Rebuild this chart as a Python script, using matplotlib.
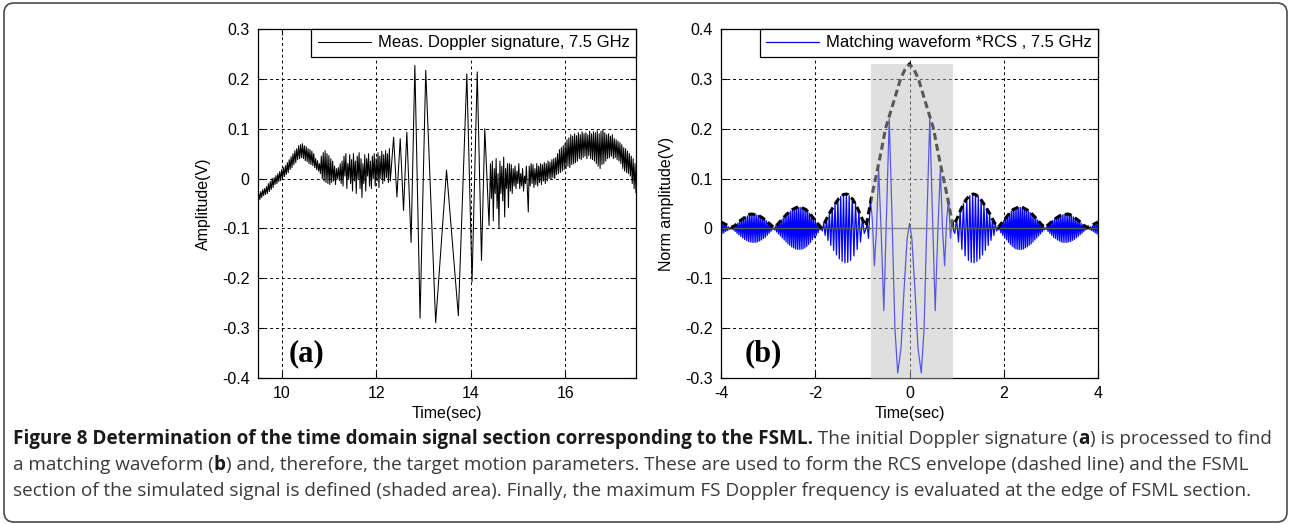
import numpy as np
import matplotlib
matplotlib.use("Agg")
import matplotlib.pyplot as plt
from matplotlib.patches import Rectangle, FancyBboxPatch
from matplotlib.transforms import IdentityTransform

plt.rcParams['font.family'] = ['Liberation Sans', 'DejaVu Sans']
plt.rcParams['axes.unicode_minus'] = False

W, H = 1291, 524

# ---------------- panel (a): measured Doppler signature ----------------
# noisy part before the burst, sampled every 0.02 s from 9.50 to 12.30
seg1_t = np.linspace(9.50, 12.30, 141)
seg1_v = [
    -0.045, -0.030, -0.042, -0.026, -0.038, -0.022, -0.034, -0.020, -0.032, -0.016,
    -0.030, -0.010, -0.026, -0.006, -0.022, 0.000, -0.018, 0.002, -0.012, 0.006,
    -0.010, 0.010, -0.006, 0.014, -0.004, 0.018, 0.000, 0.022, 0.004, 0.026,
    0.008, 0.032, 0.012, 0.038, 0.018, 0.044, 0.022, 0.050, 0.028, 0.056,
    0.032, 0.060, 0.038, 0.066, 0.040, 0.068, 0.042, 0.070, 0.040, 0.066,
    0.036, 0.064, 0.034, 0.060, 0.030, 0.058, 0.028, 0.055, 0.026, 0.050,
    0.022, 0.040, 0.018, 0.036, 0.015, 0.030, 0.010, 0.045, 0.000, 0.052,
    -0.005, 0.056, -0.008, 0.050, -0.010, 0.046, -0.012, 0.040, -0.008, 0.035,
    -0.005, 0.025, -0.012, 0.020, 0.000, 0.022, -0.004, 0.030, -0.010, 0.035,
    -0.015, 0.045, 0.005, 0.050, -0.020, 0.030, 0.000, 0.048, -0.010, 0.038,
    -0.025, 0.050, -0.005, 0.035, -0.030, 0.045, 0.000, 0.052, -0.020, 0.040,
    -0.038, 0.030, -0.010, 0.048, -0.025, 0.040, 0.005, 0.050, -0.015, 0.035,
    -0.020, 0.045, 0.000, 0.050, -0.015, 0.040, -0.005, 0.052, -0.018, 0.045,
    0.000, 0.055, -0.010, 0.048, -0.005, 0.056, 0.002, 0.050, -0.008, 0.060,
    -0.005,
]
# the large oscillations (peaks / troughs)
burst_t = [12.37, 12.44, 12.51, 12.58, 12.65, 12.74, 12.82, 12.93, 13.05, 13.26,
           13.49, 13.74, 13.92, 14.03, 14.14, 14.23, 14.30, 14.39]
burst_v = [0.083, -0.037, 0.080, -0.064, 0.093, -0.128, 0.227, -0.280, 0.217, -0.289,
           0.017, -0.275, 0.210, -0.207, 0.214, -0.164, 0.100, -0.094]
# noisy part after the burst, 14.42 .. 17.50 every 0.02 s
seg3_t = np.linspace(14.42, 17.50, 155)
seg3_v = [
    0.030, -0.040, 0.035, -0.085, 0.020, -0.030, 0.040, -0.060, 0.010, -0.100,
    0.035, -0.030, 0.025, -0.045, 0.043, -0.077, 0.020, -0.020, 0.030, -0.058,
    0.030, -0.025, 0.028, -0.030, 0.020, -0.015, 0.025, -0.020, 0.015, -0.010,
    0.030, -0.020, 0.010, -0.015, 0.020, -0.025, 0.005, -0.010, 0.025, -0.020,
    -0.067, 0.025, -0.015, 0.030, -0.010, 0.028, -0.018, 0.020, -0.012, 0.030,
    -0.015, 0.025, -0.008, 0.030, -0.012, 0.028, -0.005, 0.032, -0.010, 0.030,
    -0.005, 0.035, 0.000, 0.033, -0.002, 0.038, 0.002, 0.040, 0.000, 0.042,
    0.008, 0.050, 0.010, 0.058, 0.012, 0.062, 0.015, 0.066, 0.018, 0.070,
    0.020, 0.078, 0.025, 0.082, 0.022, 0.088, 0.028, 0.085, 0.030, 0.090,
    0.032, 0.086, 0.035, 0.092, 0.040, 0.088, 0.038, 0.094, 0.042, 0.090,
    0.045, 0.092, 0.040, 0.088, 0.046, 0.095, 0.040, 0.090, 0.038, 0.094,
    0.035, 0.092, 0.030, 0.096, 0.025, 0.090, 0.020, 0.095, 0.028, 0.098,
    0.030, 0.092, 0.035, 0.088, 0.040, 0.090, 0.042, 0.085, 0.045, 0.088,
    0.040, 0.080, 0.042, 0.078, 0.038, 0.075, 0.035, 0.072, 0.030, 0.068,
    0.020, 0.062, 0.015, 0.060, 0.012, 0.055, 0.010, 0.050, 0.005, 0.045,
    -0.010, 0.040, -0.020, 0.030, -0.028,
]

# ---------------- panel (b): matching waveform (t >= 0 half, mirrored) ----------------
main_t = [0.00, 0.05, 0.12, 0.18, 0.25, 0.31, 0.37, 0.43, 0.49, 0.545, 0.60, 0.655,
          0.70, 0.745, 0.79, 0.83, 0.87, 0.90]
main_v = [0.01, -0.02, -0.13, -0.24, -0.29, -0.20, 0.02, 0.22, 0.02, -0.165, -0.01, 0.12,
          0.00, -0.075, 0.02, 0.06, -0.02, 0.01]
lobe1_t = [0.92, 0.96, 1.00, 1.04, 1.075, 1.11, 1.145, 1.18, 1.215, 1.25, 1.28, 1.31,
           1.34, 1.37, 1.40, 1.43, 1.46, 1.49, 1.52, 1.55, 1.58, 1.61, 1.64, 1.67,
           1.70, 1.73, 1.76, 1.79, 1.82, 1.85, 1.88]
lobe1_v = [0.000, -0.010, 0.018, -0.027, 0.035, -0.042, 0.050, -0.055, 0.060, -0.064,
           0.066, -0.068, 0.069, -0.069, 0.068, -0.066, 0.064, -0.061, 0.057, -0.053,
           0.049, -0.044, 0.040, -0.034, 0.030, -0.024, 0.019, -0.014, 0.010, -0.005,
           0.002]
lobe2_t = np.linspace(1.90, 2.88, 50)
lobe2_v = [
    -0.003, 0.006, -0.009, 0.011, -0.014, 0.016, -0.018, 0.021, -0.023, 0.026,
    -0.028, 0.030, -0.032, 0.034, -0.036, 0.038, -0.039, 0.040, -0.041, 0.042,
    -0.042, 0.042, -0.042, 0.042, -0.042, 0.042, -0.041, 0.040, -0.039, 0.038,
    -0.037, 0.035, -0.034, 0.032, -0.031, 0.029, -0.027, 0.025, -0.023, 0.021,
    -0.019, 0.017, -0.015, 0.013, -0.011, 0.009, -0.007, 0.005, -0.003, 0.001,
]
lobe3_t = np.linspace(2.90, 3.78, 45)
lobe3_v = [
    -0.002, 0.004, -0.006, 0.008, -0.010, 0.012, -0.014, 0.016, -0.018, 0.019,
    -0.020, 0.022, -0.023, 0.024, -0.025, 0.026, -0.027, 0.027, -0.028, 0.028,
    -0.028, 0.028, -0.028, 0.028, -0.027, 0.027, -0.026, 0.025, -0.024, 0.023,
    -0.022, 0.021, -0.019, 0.018, -0.016, 0.015, -0.013, 0.011, -0.010, 0.008,
    -0.006, 0.005, -0.003, 0.002, -0.001,
]
lobe4_t = np.linspace(3.80, 4.00, 11)
lobe4_v = [0.001, -0.002, 0.003, -0.004, 0.005, -0.006, 0.008, -0.009, 0.010, -0.011, 0.012]

# RCS envelope (dashed), t >= 0 half
env_t = [0.00, 0.10, 0.19, 0.30, 0.43, 0.51, 0.60, 0.72, 0.80, 0.87, 0.92,
         1.00, 1.10, 1.20, 1.30, 1.35, 1.40, 1.50, 1.60, 1.70, 1.80, 1.88,
         2.00, 2.10, 2.20, 2.30, 2.35, 2.40, 2.50, 2.60, 2.70, 2.80, 2.88,
         3.00, 3.10, 3.20, 3.30, 3.35, 3.40, 3.50, 3.60, 3.70, 3.78,
         3.90, 4.00]
env_v = [0.330, 0.318, 0.300, 0.265, 0.225, 0.200, 0.155, 0.100, 0.065, 0.030, 0.005,
         0.018, 0.040, 0.058, 0.068, 0.069, 0.068, 0.060, 0.046, 0.030, 0.012, 0.002,
         0.016, 0.028, 0.038, 0.042, 0.043, 0.042, 0.037, 0.029, 0.019, 0.008, 0.002,
         0.012, 0.020, 0.026, 0.028, 0.029, 0.028, 0.022, 0.015, 0.006, 0.002,
         0.008, 0.013]

# shaded FSML section
fsml_x0, fsml_x1 = -0.82, 0.92
fsml_y0, fsml_y1 = -0.305, 0.33

xticks_a = [10, 12, 14, 16]
yticks_a = [-0.4, -0.3, -0.2, -0.1, 0, 0.1, 0.2, 0.3]
xticks_b = [-4, -2, 0, 2, 4]
yticks_b = [-0.3, -0.2, -0.1, 0, 0.1, 0.2, 0.3, 0.4]


def mirror(t, v):
    t = np.asarray(t, float)
    v = np.asarray(v, float)
    return np.concatenate([-t[:0:-1], t]), np.concatenate([v[:0:-1], v])


ta = np.concatenate([seg1_t, burst_t, seg3_t])
va = np.concatenate([seg1_v, burst_v, seg3_v])
tb, vb = mirror(np.concatenate([main_t, lobe1_t, lobe2_t, lobe3_t, lobe4_t]),
                np.concatenate([main_v, lobe1_v, lobe2_v, lobe3_v, lobe4_v]))
te, ve = mirror(env_t, env_v)

fig = plt.figure(figsize=(W / 100, H / 100), dpi=100)
ax1 = fig.add_axes([258 / W, 1 - 378 / H, 378 / W, 349 / H])
ax2 = fig.add_axes([721 / W, 1 - 378 / H, 377 / W, 349 / H])


def style(ax, xt, yt):
    ax.set_xticks(xt)
    ax.set_yticks(yt)
    ax.set_xticklabels(['%g' % x for x in xt])
    ax.set_yticklabels(['%g' % y for y in yt])
    ax.tick_params(direction='in', length=4, width=0.8, top=True, right=True,
                   labelsize=11.5, pad=6, colors='black')
    ax.grid(True, color='black', linestyle=(0, (3, 3)), linewidth=0.7)
    ax.set_axisbelow(True)
    for s in ax.spines.values():
        s.set_linewidth(0.9)
        s.set_color('black')


leg_kw = dict(loc='upper right', fontsize=12, frameon=True, fancybox=False, framealpha=1,
              edgecolor='black', borderaxespad=0, handlelength=3.2, handletextpad=0.4,
              borderpad=0.38)

# panel (a)
ax1.plot(ta, va, color='black', lw=0.75, label='Meas. Doppler signature, 7.5 GHz')
ax1.set_xlim(9.5, 17.5)
ax1.set_ylim(-0.4, 0.3)
style(ax1, xticks_a, yticks_a)
ax1.set_xlabel('Time(sec)', fontsize=11.5, labelpad=3)
ax1.set_ylabel('Amplitude(V)', fontsize=11.5, labelpad=8)
leg1 = ax1.legend(**leg_kw)
leg1.get_frame().set_linewidth(0.9)
ax1.text(10.14, -0.352, '(a)', family='Liberation Serif', fontweight='bold',
         fontsize=22, va='center', ha='left')

# panel (b)
ax2.plot(tb, vb, color='blue', lw=0.9, zorder=2, label='Matching waveform *RCS , 7.5 GHz')
ax2.plot(te, ve, color='black', lw=2.2, dashes=(2.3, 1.3), zorder=3)
ax2.axhline(0, color='#555555', lw=1.0, zorder=2.5)
ax2.add_patch(Rectangle((fsml_x0, fsml_y0), fsml_x1 - fsml_x0, fsml_y1 - fsml_y0,
                        facecolor=(0.74, 0.74, 0.74), alpha=0.47, edgecolor='none',
                        zorder=4, clip_on=False))
ax2.set_xlim(-4, 4)
ax2.set_ylim(-0.3, 0.4)
style(ax2, xticks_b, yticks_b)
ax2.set_xlabel('Time(sec)', fontsize=11.5, labelpad=3)
ax2.set_ylabel('Norm amplitude(V)', fontsize=11.5, labelpad=8)
leg2 = ax2.legend(**leg_kw)
leg2.get_frame().set_linewidth(0.9)
leg2.set_zorder(6)
ax2.text(-3.49, -0.252, '(b)', family='Liberation Serif', fontweight='bold',
         fontsize=22, va='center', ha='left')

# ---------------- caption ----------------
cap_lines = [
    [("Figure 8 Determination of the time domain signal section corresponding to the FSML.", 'bold'),
     (" The initial Doppler signature (", 'normal'), ("a", 'bold'), (") is processed to find", 'normal')],
    [("a matching waveform (", 'normal'), ("b", 'bold'),
     (") and, therefore, the target motion parameters. These are used to form the RCS envelope (dashed line) and the FSML", 'normal')],
    [("section of the simulated signal is defined (shaded area). Finally, the maximum FS Doppler frequency is evaluated at the edge of FSML section.", 'normal')],
]
cap_base = [444, 470, 496]
cap_family = ['Open Sans', 'DejaVu Sans']
cap_left, cap_right = 13, 1280

rows = []
for pieces, yb in zip(cap_lines, cap_base):
    row = []
    for s, w in pieces:
        col = '#1a1a1a' if w == 'bold' else '#3a3a3a'
        t = fig.text(cap_left / W, 1 - yb / H, s, fontsize=12, fontweight=w,
                     family=cap_family, color=col, va='baseline', ha='left')
        row.append(t)
    rows.append(row)

renderer = fig.canvas.get_renderer()


def place(size):
    # lay the pieces of each line one after another, return right end of line 1
    ends = []
    for row in rows:
        x = cap_left
        for t in row:
            t.set_fontsize(size)
            t.set_x(x / W)
            x = t.get_window_extent(renderer).x1
            if t.get_text().endswith(' '):
                x += 0.27 * size * 100 / 72
        ends.append(x)
    return ends[0]


# the leading space of a piece is measured by matplotlib, the trailing one is not
size = 12.0
for _ in range(5):
    right = place(size)
    size *= (cap_right - cap_left) / (right - cap_left)
place(size)

fig.add_artist(FancyBboxPatch((4, 2), 1283, 519, boxstyle='round,pad=0,rounding_size=10',
                              transform=IdentityTransform(), fill=False,
                              edgecolor='#4a4a4a', linewidth=1.2))

fig.savefig('out.png', dpi=100)
